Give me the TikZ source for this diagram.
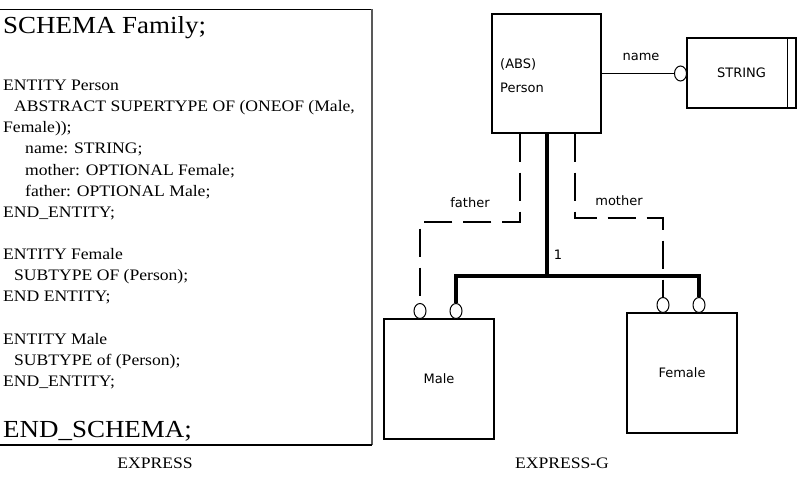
\documentclass[tikz,border=0pt]{standalone}
\usepackage{fontspec}
\setmainfont{Liberation Serif}[FakeStretch=1.1]
\newfontfamily\gfont{DejaVu Sans}
\usetikzlibrary{shapes.geometric}

\begin{document}
\begin{tikzpicture}[
  x=1pt, y=-1pt,
  codeline/.style={anchor=base west, inner sep=0pt, font=\fontsize{16}{19}\selectfont},
  bigline/.style={anchor=base west, inner sep=0pt, font=\fontsize{24.5}{28}\selectfont},
  caption/.style={anchor=base, inner sep=0pt, font=\fontsize{16}{19}\selectfont},
  entity/.style={draw, line width=1.3pt, minimum width=110pt, minimum height=120pt, inner sep=0pt, font=\gfont\fontsize{13}{15}\selectfont},
  gtext/.style={inner sep=0pt, font=\gfont\fontsize{13}{15}\selectfont},
  ring/.style={draw, ellipse, line width=1pt, fill=white, minimum width=12pt, minimum height=15pt, inner sep=0pt},
  attr/.style={line width=1.1pt},
  optattr/.style={line width=1.1pt, dash pattern=on 28pt off 11pt},
  subline/.style={line width=4pt}
]
\useasboundingbox (0,0) rectangle (803,482);

\draw[line width=1pt] (0,9) -- (372,9);
\draw[line width=1.5pt, black!65] (372,9) -- (372,445);
\draw[line width=2pt] (0,445) -- (372,445);

\node[bigline] (schema) at (3,33) {SCHEMA Family;};
\foreach \ypos/\xpos/\txt [count=\i] in {
  90/3/{ENTITY Person},
  111.3/14/{ABSTRACT SUPERTYPE OF (ONEOF (Male,},
  132.6/3/{Female));},
  153.9/25/{name: STRING;},
  175.2/25/{mother: OPTIONAL Female;},
  196.5/25/{father: OPTIONAL Male;},
  217.8/3/{END\_ENTITY;},
  259/3/{ENTITY Female},
  280.3/14/{SUBTYPE OF (Person);},
  301.6/3/{END ENTITY;},
  344/3/{ENTITY Male},
  365.3/14/{SUBTYPE of (Person);},
  386.6/3/{END\_ENTITY;}}
  \node[codeline] (code\i) at (\xpos,\ypos) {\txt};
\node[bigline] (endschema) at (3,437) {END\_SCHEMA;};
\node[caption] (exprcap) at (155,468) {EXPRESS};

\node[entity, minimum width=109pt, minimum height=119pt] (person) at (546.5,73.5) {};
\node[gtext, anchor=base west] (abs) at (500,68) {(ABS)};
\node[gtext, anchor=base west] (pname) at (500,92) {Person};
\node[entity, minimum width=109pt, minimum height=70pt] (string) at (741.5,73) {STRING};
\draw[attr] ([xshift=-9pt]string.north east) -- ([xshift=-9pt]string.south east);
\node[entity] (male) at (439,379) {Male};
\node[entity] (female) at (682,373) {Female};

\node[ring] (sring) at (680.5,73.5) {};
\node[ring] (mring1) at (420,311) {};
\node[ring] (mring2) at (456,311) {};
\node[ring] (fring1) at (663,305) {};
\node[ring] (fring2) at (699,305) {};

\draw[attr] (person.east) -- (sring);
\node[gtext] (name) at (641,57) {name};

\coordinate (hub) at (546.5,276);
\draw[subline] (person.south) -- (hub);
\draw[subline] (mring2.north) |- (hub) -| (fring2.north);
\node[gtext] (mult) at (558,255) {1};

\coordinate (fbend) at (420,222);
\coordinate (mbend) at (663,218);
\draw[optattr] ([xshift=-26.5pt]person.south) |- node[pos=0.75, above=14pt, gtext] (father) {father} (fbend) -- (mring1.north);
\draw[optattr] ([xshift=28.5pt]person.south) |- node[pos=0.75, above=12pt, gtext] (mother) {mother} (mbend) -- (fring1.north);

\node[caption] (gcap) at (562,468) {EXPRESS-G};
\end{tikzpicture}
\end{document}
